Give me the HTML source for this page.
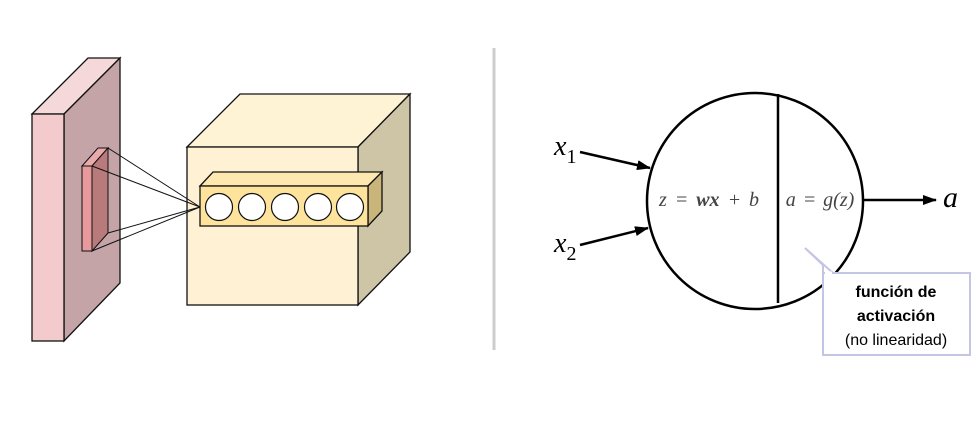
<!DOCTYPE html>
<html><head><meta charset="utf-8"><style>
html,body{margin:0;padding:0;background:#fff;}
svg{display:block;}
</style></head><body>
<svg width="974" height="428" viewBox="0 0 974 428" stroke-linejoin="miter">
  <g stroke="#111" stroke-width="1.3">
    <polygon points="32,114 88,58 120,58 64,114" fill="#f5d8da"/>
    <polygon points="64,114 120,58 120,283 64,341" fill="#c4a4a7"/>
    <rect x="32" y="114" width="32" height="227" fill="#f3cbcd"/>
  </g>
  <g stroke="#111" stroke-width="1">
    <polygon points="82,166 98,148 108,148 92,166" fill="#eaa9ab"/>
    <polygon points="92,166 108,148 108,233 92,251" fill="#b97a7c"/>
    <rect x="82" y="166" width="10" height="85" fill="#e7999c"/>
  </g>
  <g stroke="#111" stroke-width="1.3">
    <polygon points="187,147 240,94 410,94 358,147" fill="#fff3d6"/>
    <polygon points="358,147 410,94 410,252 358,305" fill="#cdc5a6"/>
    <rect x="187" y="147" width="171" height="158" fill="#fff1d3"/>
  </g>
  <g stroke="#111" stroke-width="1">
    <line x1="108" y1="148" x2="200" y2="207"/>
    <line x1="92" y1="166" x2="200" y2="207"/>
    <line x1="108" y1="233" x2="200" y2="207"/>
    <line x1="92" y1="251" x2="200" y2="207"/>
  </g>
  <g stroke="#111" stroke-width="1.3">
    <polygon points="200,186 213,172 382,172 368,186" fill="#fde9b0"/>
    <polygon points="368,186 382,172 382,211 368,226" fill="#c9b47a"/>
    <rect x="200" y="186" width="168" height="40" fill="#fde39c"/>
    <g fill="#fff" stroke-width="1.2">
      <circle cx="219" cy="207" r="13.5"/>
      <circle cx="252" cy="207" r="13.5"/>
      <circle cx="285" cy="207" r="13.5"/>
      <circle cx="318" cy="207" r="13.5"/>
      <circle cx="350" cy="207" r="13.5"/>
    </g>
  </g>
  <line x1="494" y1="48" x2="494" y2="350" stroke="#ccc" stroke-width="3"/>
  <defs>
    <marker id="ah" markerWidth="14" markerHeight="10" refX="13" refY="5" orient="auto" markerUnits="userSpaceOnUse">
      <polygon points="0,0 14,5 0,10" fill="#000"/>
    </marker>
  </defs>
  <g>
    <circle cx="755" cy="201" r="108" fill="#fff" stroke="#000" stroke-width="2.5"/>
    <line x1="778" y1="94" x2="778" y2="303" stroke="#000" stroke-width="2.5"/>
    <text x="709" y="206" font-family="'Liberation Serif',serif" font-size="20" font-style="italic" fill="#444" text-anchor="middle" word-spacing="3">z = <tspan font-weight="bold">wx</tspan> + b</text>
    <text x="820" y="206" font-family="'Liberation Serif',serif" font-size="20" font-style="italic" fill="#444" text-anchor="middle" word-spacing="2">a = g(z)</text>
  </g>
  <g stroke="#000" stroke-width="2.5">
    <line x1="580" y1="152" x2="650" y2="168" marker-end="url(#ah)"/>
    <line x1="580" y1="245" x2="648" y2="228" marker-end="url(#ah)"/>
    <line x1="863" y1="200" x2="936" y2="200" marker-end="url(#ah)"/>
  </g>
  <text x="554" y="155" font-family="'Liberation Serif',serif" font-size="28" font-style="italic">x<tspan font-style="normal" font-size="20" dy="8">1</tspan></text>
  <text x="554" y="252" font-family="'Liberation Serif',serif" font-size="28" font-style="italic">x<tspan font-style="normal" font-size="20" dy="8">2</tspan></text>
  <text x="943" y="207" font-family="'Liberation Serif',serif" font-size="30" font-style="italic">a</text>
  <g>
    <path d="M823,273 L823,265 L805,248 L833,273 Z" fill="#fff" stroke="#c4c4e4" stroke-width="2"/>
    <rect x="823" y="273" width="147" height="82" fill="#fff" stroke="#c4c4e4" stroke-width="2"/>
    <line x1="825" y1="273" x2="832" y2="273" stroke="#fff" stroke-width="3"/>
    <g font-family="'Liberation Sans',sans-serif" font-size="16" text-anchor="middle" fill="#000">
      <text x="896" y="297" font-weight="bold">función de</text>
      <text x="896" y="321" font-weight="bold">activación</text>
      <text x="896" y="345">(no linearidad)</text>
    </g>
  </g>
</svg>
</body></html>
